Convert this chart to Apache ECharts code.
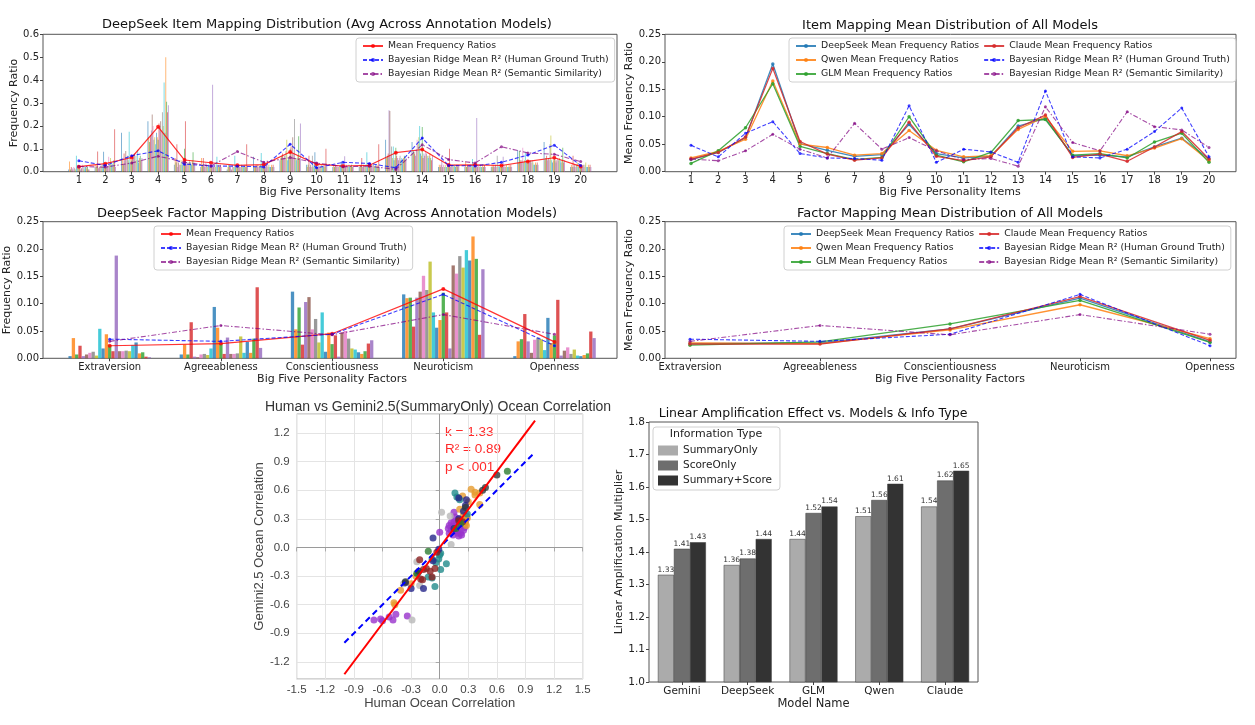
<!DOCTYPE html>
<html><head><meta charset="utf-8">
<script src="https://cdn.jsdelivr.net/npm/echarts@6/dist/echarts.min.js"></script>
<style>html,body{margin:0;padding:0;background:#fff}#c{width:1255px;height:725px}</style>
</head><body><div id="c"></div>
<script>
// ---------- categories ----------
const items = ['1','2','3','4','5','6','7','8','9','10','11','12','13','14','15','16','17','18','19','20'];
const factors = ['Extraversion','Agreeableness','Conscientiousness','Neuroticism','Openness'];
const modelNames = ['Gemini','DeepSeek','GLM','Qwen','Claude'];

// ---------- item-level means (panels A & B) ----------
const deepseekItemMean = [0.022,0.035,0.062,0.196,0.051,0.039,0.028,0.031,0.086,0.033,0.025,0.028,0.083,0.097,0.029,0.030,0.027,0.045,0.061,0.023];
const qwenItemMean     = [0.025,0.037,0.059,0.165,0.050,0.044,0.030,0.033,0.075,0.039,0.027,0.029,0.077,0.100,0.037,0.038,0.029,0.043,0.060,0.020];
const glmItemMean      = [0.015,0.038,0.080,0.160,0.046,0.033,0.022,0.026,0.100,0.030,0.018,0.035,0.093,0.095,0.030,0.033,0.025,0.054,0.070,0.017];
const claudeItemMean   = [0.023,0.035,0.063,0.188,0.055,0.032,0.021,0.025,0.090,0.028,0.020,0.027,0.080,0.103,0.026,0.032,0.019,0.045,0.073,0.023];
const itemHGT          = [0.048,0.027,0.070,0.091,0.033,0.025,0.024,0.021,0.120,0.017,0.041,0.036,0.017,0.147,0.027,0.025,0.041,0.073,0.116,0.027];
const itemSS           = [0.023,0.020,0.038,0.068,0.041,0.025,0.088,0.041,0.062,0.038,0.022,0.024,0.010,0.118,0.053,0.038,0.109,0.082,0.076,0.044];

// per-item bars of the 25 annotation models (panel A), one row per item
const itemBarRows = [
 [0.01,0.045,0.01,0.02,0.015,0.01,0.02,0.015,0.01,0.07, 0.02,0.03,0.015,0.02,0.01,0.015,0.03,0.02,0.01,0.025, 0.02,0.015,0.02,0.01,0.01],
 [0.02,0.03,0.02,0.088,0.015,0.02,0.025,0.02,0.03,0.02, 0.087,0.04,0.03,0.02,0.02,0.025,0.065,0.03,0.06,0.03, 0.035,0.02,0.05,0.185,0.02],
 [0.17,0.05,0.03,0.08,0.05,0.09,0.06,0.07,0.05,0.175, 0.04,0.06,0.05,0.07,0.06,0.08,0.04,0.07,0.05,0.095, 0.04,0.06,0.07,0.05,0.06],
 [0.22,0.15,0.13,0.16,0.18,0.25,0.20,0.14,0.15,0.12, 0.17,0.15,0.14,0.21,0.20,0.22,0.18,0.26,0.20,0.39, 0.17,0.50,0.305,0.26,0.29],
 [0.03,0.06,0.04,0.12,0.02,0.04,0.03,0.03,0.05,0.03, 0.04,0.05,0.10,0.22,0.03,0.04,0.03,0.04,0.05,0.04, 0.03,0.05,0.085,0.03,0.04],
 [0.02,0.06,0.03,0.06,0.03,0.02,0.04,0.03,0.02,0.03, 0.02,0.03,0.02,0.03,0.38,0.02,0.03,0.02,0.03,0.065, 0.02,0.03,0.02,0.03,0.02],
 [0.01,0.02,0.03,0.02,0.02,0.01,0.03,0.02,0.02,0.07, 0.02,0.03,0.02,0.02,0.03,0.02,0.02,0.03,0.02,0.02, 0.02,0.03,0.02,0.12,0.02],
 [0.065,0.02,0.02,0.03,0.02,0.03,0.02,0.02,0.03,0.082, 0.02,0.03,0.02,0.03,0.02,0.03,0.05,0.02,0.03,0.02, 0.02,0.03,0.02,0.03,0.02],
 [0.05,0.06,0.07,0.08,0.06,0.07,0.06,0.09,0.14,0.05, 0.06,0.07,0.10,0.11,0.06,0.15,0.08,0.23,0.06,0.05, 0.06,0.07,0.155,0.06,0.21],
 [0.03,0.02,0.03,0.07,0.02,0.03,0.02,0.07,0.02,0.03, 0.085,0.02,0.03,0.02,0.03,0.02,0.03,0.02,0.03,0.02, 0.02,0.03,0.02,0.10,0.02],
 [0.02,0.03,0.02,0.03,0.02,0.02,0.03,0.02,0.02,0.03, 0.045,0.02,0.03,0.02,0.068,0.02,0.03,0.02,0.02,0.03, 0.02,0.02,0.03,0.02,0.02],
 [0.02,0.03,0.02,0.06,0.02,0.03,0.02,0.03,0.02,0.085, 0.02,0.03,0.02,0.03,0.02,0.03,0.02,0.03,0.02,0.03, 0.02,0.03,0.02,0.12,0.02],
 [0.14,0.06,0.07,0.08,0.268,0.265,0.07,0.11,0.06,0.11, 0.05,0.06,0.105,0.07,0.06,0.05,0.06,0.07,0.05,0.06, 0.05,0.06,0.07,0.05,0.06],
 [0.13,0.08,0.09,0.08,0.07,0.09,0.14,0.12,0.15,0.20, 0.08,0.07,0.195,0.06,0.08,0.07,0.09,0.08,0.07,0.06, 0.07,0.08,0.06,0.05,0.07],
 [0.02,0.03,0.02,0.03,0.07,0.02,0.03,0.02,0.03,0.02, 0.02,0.03,0.02,0.10,0.02,0.03,0.02,0.03,0.02,0.03, 0.02,0.03,0.02,0.03,0.02],
 [0.02,0.045,0.02,0.03,0.02,0.03,0.02,0.03,0.02,0.055, 0.02,0.03,0.02,0.03,0.235,0.02,0.03,0.02,0.03,0.02, 0.02,0.03,0.02,0.03,0.02],
 [0.02,0.03,0.02,0.03,0.02,0.03,0.02,0.07,0.02,0.03, 0.02,0.03,0.02,0.03,0.065,0.02,0.03,0.02,0.03,0.02, 0.02,0.03,0.02,0.03,0.02],
 [0.095,0.04,0.09,0.05,0.04,0.05,0.105,0.04,0.05,0.085, 0.04,0.05,0.04,0.05,0.04,0.05,0.04,0.05,0.04,0.03, 0.03,0.04,0.03,0.04,0.03],
 [0.13,0.05,0.06,0.07,0.05,0.06,0.05,0.12,0.158,0.05, 0.04,0.05,0.06,0.05,0.04,0.05,0.06,0.05,0.06,0.05, 0.04,0.05,0.105,0.04,0.05],
 [0.02,0.03,0.02,0.07,0.02,0.03,0.02,0.03,0.04,0.02, 0.02,0.03,0.02,0.03,0.02,0.03,0.02,0.03,0.04,0.02, 0.02,0.03,0.02,0.03,0.02]
];

// ---------- factor-level (panels C & D) ----------
const factorBarsExtraversion      = [0.004,0.037,0.007,0.023,0.004,0.007,0.010,0.012,0.005,0.054,0.018,0.044,0.024,0.013,0.188,0.013,0.013,0.014,0.013,0.024,0.029,0.009,0.011,0.003,0.002];
const factorBarsAgreeableness     = [0.007,0.025,0.007,0.066,0.003,0.002,0.007,0.008,0.006,0.018,0.094,0.056,0.026,0.008,0.038,0.008,0.008,0.009,0.040,0.010,0.030,0.010,0.036,0.130,0.019];
const factorBarsConscientiousness = [0.122,0.053,0.093,0.025,0.103,0.112,0.053,0.072,0.029,0.084,0.012,0.047,0.026,0.042,0.003,0.047,0.050,0.036,0.018,0.016,0.011,0.008,0.013,0.027,0.033];
const factorBarsNeuroticism       = [0.117,0.110,0.111,0.058,0.111,0.122,0.151,0.125,0.177,0.084,0.056,0.070,0.120,0.084,0.018,0.170,0.155,0.187,0.166,0.198,0.179,0.223,0.182,0.043,0.163];
const factorBarsOpenness          = [0.004,0.031,0.035,0.081,0.031,0.010,0.034,0.038,0.035,0.015,0.074,0.028,0.042,0.107,0.005,0.014,0.020,0.008,0.016,0.005,0.004,0.006,0.009,0.049,0.037];
const factorMeanDS   = [0.023,0.027,0.045,0.127,0.030];
const factorDeepSeek = [0.027,0.028,0.054,0.110,0.030];
const factorQwen     = [0.028,0.027,0.052,0.098,0.036];
const factorGLM      = [0.024,0.030,0.063,0.106,0.029];
const factorClaude   = [0.026,0.026,0.054,0.113,0.033];
const factorHGT      = [0.035,0.031,0.044,0.117,0.023];
const factorSS       = [0.031,0.060,0.043,0.080,0.044];

// ---------- scatter (panel E) ----------
const ptsPurple = [[0.16,0.32],[0.20,0.30],[0.12,0.26],[0.15,0.27],[0.18,0.26],[0.22,0.27],[0.10,0.23],[0.14,0.22],[0.17,0.21],[0.21,0.22],[0.24,0.24],[0.26,0.21],[0.12,0.18],[0.16,0.17],[0.19,0.15],[0.22,0.15],[0.25,0.18],[0.10,0.15],[0.14,0.13],[0.20,0.12],[0.23,0.13],[0.18,0.19],[0.27,0.27],[0.09,0.20],[0.00,0.16],[0.28,0.33],[0.15,0.37],[-0.69,-0.76],[-0.62,-0.75],[-0.60,-0.77],[-0.53,-0.73],[-0.49,-0.76],[-0.46,-0.70],[-0.34,-0.72]];
const ptsOrange = [[0.33,0.61],[0.37,0.58],[0.37,0.55],[0.42,0.57],[0.24,0.54],[0.30,0.48],[0.42,0.45],[0.21,0.40],[0.25,0.34],[0.27,0.25],[0.28,0.23],[0.26,0.29],[0.29,0.31],[-0.41,-0.45],[-0.48,-0.58],[-0.47,-0.60],[-0.30,-0.38],[-0.25,-0.30]];
const ptsTeal   = [[0.16,0.57],[0.18,0.53],[0.21,0.50],[0.29,0.35],[0.00,-0.08],[-0.01,-0.12],[0.01,-0.06],[0.07,-0.17],[0.01,-0.23],[-0.05,-0.41],[-0.12,-0.31],[-0.08,-0.32],[-0.23,-0.27],[-0.04,-0.16],[-0.08,-0.12]];
const ptsGray   = [[0.02,0.37],[0.12,0.03],[-0.24,-0.15],[-0.21,-0.40],[-0.29,-0.76],[-0.38,-0.38],[0.11,0.33]];
const ptsNavy   = [[-0.07,0.10],[0.20,0.52],[0.28,0.50],[0.27,0.44],[0.25,0.38],[-0.17,-0.43],[-0.30,-0.43],[-0.36,-0.37],[-0.07,-0.14],[-0.01,-0.02],[0.20,0.30],[0.15,0.20]];
const ptsMaroon = [[-0.21,-0.13],[-0.17,-0.23],[-0.14,-0.22],[-0.20,-0.33],[-0.08,-0.31],[-0.05,-0.22],[-0.10,-0.25],[-0.18,-0.34],[0.20,0.28],[0.24,0.27],[-0.03,-0.05]];
const ptsGreen  = [[0.71,0.80],[-0.12,-0.04],[-0.24,-0.27],[0.22,0.25],[0.17,0.20]];
const ptsDark   = [[0.60,0.76],[0.48,0.63],[-0.36,-0.36],[-0.22,-0.25],[0.27,0.42],[0.45,0.60]];
const fitLine      = [[-1.0,-1.33],[1.0,1.33]];
const identityLine = [[-1.0,-1.0],[1.0,1.0]];
const zeroLines = [0];

// ---------- amplification bars (panel F) ----------
const summaryOnly  = [1.33,1.36,1.44,1.51,1.54];
const scoreOnly    = [1.41,1.38,1.52,1.56,1.62];
const summaryScore = [1.43,1.44,1.54,1.61,1.65];

// ---------- styles ----------
const FONT = 'DejaVu Sans';
const AR = 'Liberation Sans';
const tab10 = ['#1f77b4','#ff7f0e','#2ca02c','#d62728','#9467bd','#8c564b','#e377c2','#7f7f7f','#bcbd22','#17becf'];
const HGT_NAME = 'Bayesian Ridge Mean R² (Human Ground Truth)';
const SS_NAME = 'Bayesian Ridge Mean R² (Semantic Similarity)';
const lbl = {fontSize:10, color:'#222', fontFamily:FONT};
const nameSt = {fontSize:11, color:'#222', fontFamily:FONT};

function frameY(gi, max, interval, digits, name, gap){
  return {gridIndex:gi, type:'value', min:0, max:max, interval:interval,
    axisLine:{show:false}, axisTick:{show:true, length:3, lineStyle:{color:'#444'}},
    splitLine:{show:false},
    axisLabel:{...lbl, margin:4, formatter:v=>v.toFixed(digits)},
    name:name, nameLocation:'middle', nameGap:gap, nameTextStyle:nameSt};
}
function hiddenX(gi){ return {gridIndex:gi, type:'value', min:0, max:1, show:false}; }
function hiddenY(gi, max){ return {gridIndex:gi, type:'value', min:0, max:max, show:false}; }
function catX(gi, data, bg, name){
  return {gridIndex:gi, type:'category', data:data, boundaryGap:bg,
    axisLine:{show:false}, axisTick:{show:true, alignWithLabel:true, length:3, lineStyle:{color:'#444'}},
    axisLabel:{...lbl, margin:4, interval:0},
    name:name, nameLocation:'middle', nameGap:13.5, nameTextStyle:nameSt};
}
function lineS(name, data, xi, color, dash, sym, size, width, z){
  return {type:'line', name:name, xAxisIndex:xi, yAxisIndex:xi, data:data, z:z||4,
    symbol:sym, symbolSize:size, showSymbol:true,
    lineStyle:{color:color, width:width, type:dash}, itemStyle:{color:color}, silent:true};
}

const series = [];
// Panel A bars
for (let m = 0; m < 25; m++) {
  series.push({type:'bar', xAxisIndex:1, yAxisIndex:1, data:itemBarRows.map(r=>r[m]),
    barWidth:0.85, barMinWidth:0.5, barGap:'0%', silent:true,
    itemStyle:{color:tab10[m%10], opacity:0.65}});
}
series.push(lineS('Mean Frequency Ratios', deepseekItemMean, 1, 'rgba(255,0,0,0.8)', 'solid', 'circle', 4, 1.2));
series.push(lineS(HGT_NAME, itemHGT, 1, 'rgba(0,0,255,0.75)', [4,2], 'circle', 3, 1.1));
series.push(lineS(SS_NAME, itemSS, 1, 'rgba(128,0,128,0.7)', [5,2,1.5,2], 'circle', 3, 1.1));
// Panel B lines
series.push(lineS('DeepSeek Mean Frequency Ratios', deepseekItemMean, 3, 'rgba(31,119,180,0.85)', 'solid', 'circle', 3.5, 1.3));
series.push(lineS('Qwen Mean Frequency Ratios', qwenItemMean, 3, 'rgba(255,127,14,0.85)', 'solid', 'circle', 3.5, 1.3));
series.push(lineS('GLM Mean Frequency Ratios', glmItemMean, 3, 'rgba(44,160,44,0.85)', 'solid', 'circle', 3.5, 1.3));
series.push(lineS('Claude Mean Frequency Ratios', claudeItemMean, 3, 'rgba(214,39,40,0.85)', 'solid', 'circle', 3.5, 1.3));
series.push(lineS(HGT_NAME, itemHGT, 3, 'rgba(0,0,255,0.75)', [4,2], 'circle', 3, 1.1));
series.push(lineS(SS_NAME, itemSS, 3, 'rgba(128,0,128,0.7)', [5,2,1.5,2], 'circle', 3, 1.1));
// Panel C bars
const factorRows = [factorBarsExtraversion, factorBarsAgreeableness, factorBarsConscientiousness, factorBarsNeuroticism, factorBarsOpenness];
for (let m = 0; m < 25; m++) {
  series.push({type:'bar', xAxisIndex:5, yAxisIndex:5, data:factorRows.map(r=>r[m]),
    barWidth:3.3, barGap:'0%', silent:true,
    itemStyle:{color:tab10[m%10], opacity:0.8}});
}
series.push(lineS('Mean Frequency Ratios', factorMeanDS, 5, 'rgba(255,0,0,0.8)', 'solid', 'circle', 4, 1.2));
series.push(lineS(HGT_NAME, factorHGT, 5, 'rgba(0,0,255,0.75)', [4,2], 'circle', 3, 1.1));
series.push(lineS(SS_NAME, factorSS, 5, 'rgba(128,0,128,0.7)', [5,2,1.5,2], 'circle', 3, 1.1));
// Panel D lines
series.push(lineS('DeepSeek Mean Frequency Ratios', factorDeepSeek, 7, 'rgba(31,119,180,0.85)', 'solid', 'circle', 3.5, 1.3));
series.push(lineS('Qwen Mean Frequency Ratios', factorQwen, 7, 'rgba(255,127,14,0.85)', 'solid', 'circle', 3.5, 1.3));
series.push(lineS('GLM Mean Frequency Ratios', factorGLM, 7, 'rgba(44,160,44,0.85)', 'solid', 'circle', 3.5, 1.3));
series.push(lineS('Claude Mean Frequency Ratios', factorClaude, 7, 'rgba(214,39,40,0.85)', 'solid', 'circle', 3.5, 1.3));
series.push(lineS(HGT_NAME, factorHGT, 7, 'rgba(0,0,255,0.75)', [4,2], 'circle', 3, 1.1));
series.push(lineS(SS_NAME, factorSS, 7, 'rgba(128,0,128,0.7)', [5,2,1.5,2], 'circle', 3, 1.1));
// Panel E scatter
const scatterGroups = [
  [ptsPurple,'#9932cc'],[ptsOrange,'#e69b2e'],[ptsTeal,'#218b8b'],[ptsGray,'#b8b8b8'],
  [ptsNavy,'#26268a'],[ptsMaroon,'#8b2222'],[ptsGreen,'#2e7d32'],[ptsDark,'#2f3a3a']
];
scatterGroups.forEach((g, i) => {
  const s = {type:'scatter', xAxisIndex:8, yAxisIndex:8, data:g[0], symbolSize:7, silent:true,
    itemStyle:{color:g[1], opacity:0.8}, z:3};
  if (i === 0) {
    s.markLine = {silent:true, symbol:'none', label:{show:false}, animation:false,
      lineStyle:{color:'#9a9a9a', type:'solid', width:1},
      data:[{xAxis:zeroLines[0]},{yAxis:zeroLines[0]}], z:1};
  }
  series.push(s);
});
series.push({type:'line', xAxisIndex:8, yAxisIndex:8, data:identityLine, symbol:'none', silent:true, z:4,
  lineStyle:{color:'#0000ff', width:2, type:[6,4]}});
series.push({type:'line', xAxisIndex:8, yAxisIndex:8, data:fitLine, symbol:'none', silent:true, z:5,
  lineStyle:{color:'#ff0000', width:2, type:'solid'}});
// Panel F bars
const barLbl = {show:true, position:'top', distance:1, fontSize:7.5, color:'#333', fontFamily:FONT, formatter:p=>p.value.toFixed(2)};
[['SummaryOnly', summaryOnly, '#ababab'], ['ScoreOnly', scoreOnly, '#6e6e6e'], ['Summary+Score', summaryScore, '#333333']].forEach(b => {
  series.push({type:'bar', name:b[0], xAxisIndex:9, yAxisIndex:9, data:b[1], barWidth:16, barGap:'0%', silent:true,
    itemStyle:{color:b[2], borderColor:'#3a3a3a', borderWidth:0.5}, label:barLbl});
});

const legBase = {orient:'vertical', itemGap:4, itemWidth:20, itemHeight:5,
  textStyle:{fontSize:9.3, color:'#222', fontFamily:FONT, lineHeight:10},
  borderColor:'#d0d0d0', borderWidth:1, borderRadius:3, backgroundColor:'rgba(255,255,255,0.85)',
  padding:[3,6,3,6], selectedMode:false};

const option = {
  animation:false,
  backgroundColor:'#fff',
  textStyle:{fontFamily:FONT},
  title:[
    {text:'DeepSeek Item Mapping Distribution (Avg Across Annotation Models)', left:327, top:18, textAlign:'center', padding:0, textStyle:{fontSize:13, fontWeight:'normal', color:'#111', fontFamily:FONT}},
    {text:'Item Mapping Mean Distribution of All Models', left:950, top:19, textAlign:'center', padding:0, textStyle:{fontSize:13, fontWeight:'normal', color:'#111', fontFamily:FONT}},
    {text:'DeepSeek Factor Mapping Distribution (Avg Across Annotation Models)', left:327, top:207, textAlign:'center', padding:0, textStyle:{fontSize:13, fontWeight:'normal', color:'#111', fontFamily:FONT}},
    {text:'Factor Mapping Mean Distribution of All Models', left:950, top:207, textAlign:'center', padding:0, textStyle:{fontSize:13, fontWeight:'normal', color:'#111', fontFamily:FONT}},
    {text:'Human vs Gemini2.5(SummaryOnly) Ocean Correlation', left:438, top:400, textAlign:'center', padding:0, textStyle:{fontSize:14, fontWeight:'normal', color:'#333', fontFamily:AR}},
    {text:'Linear Amplification Effect vs. Models & Info Type', left:813, top:407, textAlign:'center', padding:0, textStyle:{fontSize:12.5, fontWeight:'normal', color:'#111', fontFamily:FONT}},
    {text:'Information Type', left:716, top:429, textAlign:'center', padding:0, textStyle:{fontSize:11, fontWeight:'normal', color:'#222', fontFamily:FONT}}
  ],
  legend:[
    {...legBase, left:356, top:38, data:['Mean Frequency Ratios', HGT_NAME, SS_NAME]},
    {...legBase, left:789, top:38, height:44, data:['DeepSeek Mean Frequency Ratios','Qwen Mean Frequency Ratios','GLM Mean Frequency Ratios','Claude Mean Frequency Ratios', HGT_NAME, SS_NAME]},
    {...legBase, left:154, top:226, data:['Mean Frequency Ratios', HGT_NAME, SS_NAME]},
    {...legBase, left:784, top:226, height:44, data:['DeepSeek Mean Frequency Ratios','Qwen Mean Frequency Ratios','GLM Mean Frequency Ratios','Claude Mean Frequency Ratios', HGT_NAME, SS_NAME]},
    {orient:'vertical', left:653, top:427, itemGap:4, itemWidth:20, itemHeight:10, icon:'rect',
      itemStyle:{borderWidth:0},
      textStyle:{fontSize:10.5, color:'#222', fontFamily:FONT},
      borderColor:'#d0d0d0', borderWidth:1, borderRadius:3, backgroundColor:'rgba(255,255,255,0.85)',
      padding:[18,8,4,5], selectedMode:false, data:['SummaryOnly','ScoreOnly','Summary+Score']}
  ],
  grid:[
    {left:43, top:34.3, width:574, height:137.4, show:true, borderColor:'#555', borderWidth:1, backgroundColor:'transparent'},
    {left:65.7, top:34.3, width:528.2, height:137.4},
    {left:665, top:34.3, width:571, height:137.4, show:true, borderColor:'#555', borderWidth:1, backgroundColor:'transparent'},
    {left:691, top:34.3, width:518, height:137.4},
    {left:43, top:221.7, width:574, height:136.6, show:true, borderColor:'#555', borderWidth:1, backgroundColor:'transparent'},
    {left:54.1, top:221.7, width:556, height:136.6},
    {left:665, top:221.7, width:571, height:136.6, show:true, borderColor:'#555', borderWidth:1, backgroundColor:'transparent'},
    {left:690, top:221.7, width:520, height:136.6},
    {left:296.7, top:414, width:286, height:265, show:true, borderColor:'#a8a8a8', borderWidth:1, backgroundColor:'transparent'},
    {left:649, top:422, width:329, height:260, show:true, borderColor:'#555', borderWidth:1, backgroundColor:'transparent'}
  ],
  xAxis:[
    hiddenX(0),
    catX(1, items, true, 'Big Five Personality Items'),
    hiddenX(2),
    catX(3, items, false, 'Big Five Personality Items'),
    hiddenX(4),
    catX(5, factors, true, 'Big Five Personality Factors'),
    hiddenX(6),
    catX(7, factors, false, 'Big Five Personality Factors'),
    {gridIndex:8, type:'value', min:-1.5, max:1.5, interval:0.3,
      axisLine:{show:false}, axisTick:{show:true, length:4, lineStyle:{color:'#aaa'}},
      splitLine:{show:true, lineStyle:{color:'#e4e4e4', width:1}},
      axisLabel:{fontSize:11.5, color:'#444', fontFamily:AR, margin:5, formatter:v=>v.toFixed(1)},
      name:'Human Ocean Correlation', nameLocation:'middle', nameGap:15, nameTextStyle:{fontSize:13, color:'#444', fontFamily:AR}},
    {gridIndex:9, type:'category', data:modelNames, boundaryGap:true,
      axisLine:{show:false}, axisTick:{show:true, alignWithLabel:true, length:3, lineStyle:{color:'#444'}},
      axisLabel:{fontSize:10.5, color:'#222', fontFamily:FONT, margin:4, interval:0},
      name:'Model Name', nameLocation:'middle', nameGap:15, nameTextStyle:{fontSize:11.5, color:'#222', fontFamily:FONT}}
  ],
  yAxis:[
    frameY(0, 0.6, 0.1, 1, 'Frequency Ratio', 23),
    hiddenY(1, 0.6),
    frameY(2, 0.25, 0.05, 2, 'Mean Frequency Ratio', 27),
    hiddenY(3, 0.25),
    frameY(4, 0.25, 0.05, 2, 'Frequency Ratio', 27),
    hiddenY(5, 0.25),
    frameY(6, 0.25, 0.05, 2, 'Mean Frequency Ratio', 27),
    hiddenY(7, 0.25),
    {gridIndex:8, type:'value', min:-1.38, max:1.40, splitNumber:9,
      axisLine:{show:false}, axisTick:{show:true, length:4, lineStyle:{color:'#aaa'}},
      splitLine:{show:true, lineStyle:{color:'#e4e4e4', width:1}},
      axisLabel:{fontSize:11.5, color:'#444', fontFamily:AR, margin:7, showMinLabel:false, showMaxLabel:false, formatter:v=>v.toFixed(1)},
      name:'Gemini2.5 Ocean Correlation', nameLocation:'middle', nameGap:24, nameTextStyle:{fontSize:13, color:'#444', fontFamily:AR}},
    {gridIndex:9, type:'value', min:1.0, max:1.8, interval:0.1,
      axisLine:{show:false}, axisTick:{show:true, length:3, lineStyle:{color:'#444'}},
      splitLine:{show:false},
      axisLabel:{fontSize:10.5, color:'#222', fontFamily:FONT, margin:4, formatter:v=>v.toFixed(1)},
      name:'Linear Amplification Multiplier', nameLocation:'middle', nameGap:24, nameTextStyle:{fontSize:11, color:'#222', fontFamily:FONT}}
  ],
  graphic:[
    {type:'text', left:445, top:425, style:{text:'k = 1.33', fill:'#ff2a2a', font:'13.5px "Liberation Sans"'}},
    {type:'text', left:445, top:442, style:{text:'R² = 0.89', fill:'#ff2a2a', font:'13.5px "Liberation Sans"'}},
    {type:'text', left:445, top:460, style:{text:'p < .001', fill:'#ff2a2a', font:'13.5px "Liberation Sans"'}}
  ],
  series:series
};
const chart = echarts.init(document.getElementById('c'));
chart.setOption(option);
</script></body></html>
